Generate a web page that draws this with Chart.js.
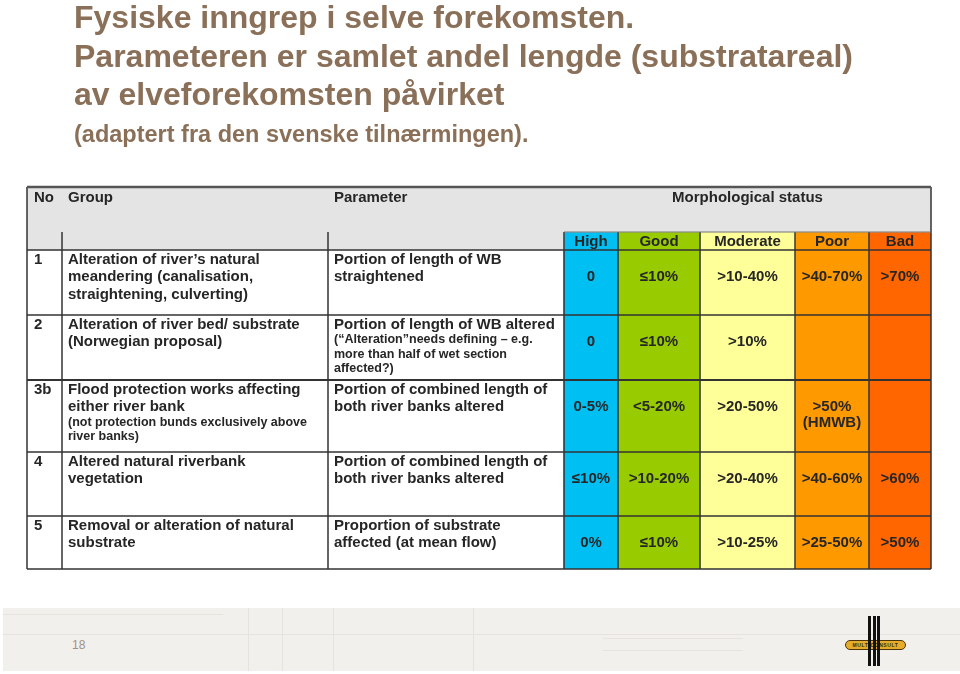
<!DOCTYPE html>
<html>
<head>
<meta charset="utf-8">
<script src="https://cdn.jsdelivr.net/npm/chart.js@4.4.0/dist/chart.umd.min.js"></script>
<style>
  body { margin: 0; width: 960px; height: 674px; overflow: hidden; position: relative; background: #fff;
         font-family: "Liberation Sans", Arial, sans-serif; }
  #c { position: absolute; left: 0; top: 0; }
  .title { position: absolute; left: 74px; color: #8b7059; font-weight: bold; white-space: nowrap; }
  .big { font-size: 32px; line-height: 38.5px; top: -2px; }
  .sub { font-size: 23.5px; line-height: 28px; top: 120px; }
  #footer { position: absolute; left: 3px; top: 608px; width: 957px; height: 63px; background: #f2f0ec; }
  .fl { position: absolute; background: #e6e2dc; }
  #page { position: absolute; left: 72px; top: 638px; font-size: 12px; color: #a09282; }
  .bar { position: absolute; top: 616px; width: 3px; height: 50px; background: #111; }
  #pill { position: absolute; left: 845px; top: 640px; width: 59px; height: 8px; border-radius: 5px;
          background: #e6ad2b; border: 1px solid #4a350e; font-size: 5px; line-height: 8px; font-weight: bold;
          color: #3a2a0c; text-align: center; letter-spacing: 0.6px; }
</style>
</head>
<body>
<canvas id="c" width="960" height="674"></canvas>
<div class="title big">Fysiske inngrep i selve forekomsten.<br>Parameteren er samlet andel lengde (substratareal)<br>av elveforekomsten påvirket</div>
<div class="title sub">(adaptert fra den svenske tilnærmingen).</div>
<div id="footer">
  <div class="fl" style="left:0;top:6px;width:220px;height:1px"></div>
  <div class="fl" style="left:0;top:26px;width:957px;height:1px"></div>
  <div class="fl" style="left:245px;top:0;width:1px;height:63px"></div>
  <div class="fl" style="left:279px;top:0;width:1px;height:63px"></div>
  <div class="fl" style="left:330px;top:0;width:1px;height:63px"></div>
  <div class="fl" style="left:470px;top:0;width:1px;height:63px"></div>
  <div class="fl" style="left:600px;top:30px;width:140px;height:1px"></div>
  <div class="fl" style="left:600px;top:42px;width:140px;height:1px"></div>
</div>
<div id="page">18</div>
<div id="pill">MULTICONSULT</div>
<div class="bar" style="left:868px"></div>
<div class="bar" style="left:872.5px"></div>
<div class="bar" style="left:877px"></div>
<script>
// categories / texts
var statusLabels = ['High', 'Good', 'Moderate', 'Poor', 'Bad'];
var statusColors = ['#00bff3', '#99cc00', '#ffff99', '#ff9900', '#ff6600'];
var rowNo = ['1', '2', '3b', '4', '5'];
var groupText = [
    ['Alteration of river\u2019s natural', 'meandering (canalisation,', 'straightening, culverting)'],
    ['Alteration of river bed/ substrate', '(Norwegian proposal)'],
    ['Flood protection works affecting', 'either river bank'],
    ['Altered natural riverbank', 'vegetation'],
    ['Removal or alteration of natural', 'substrate']
];
var groupNote = [[], [], ['(not protection bunds exclusively above', 'river banks)'], [], []];
var parameterText = [
    ['Portion of length of WB', 'straightened'],
    ['Portion of length of WB altered'],
    ['Portion of combined length of', 'both river banks altered'],
    ['Portion of combined length of', 'both river banks altered'],
    ['Proportion of substrate', 'affected (at mean flow)']
];
var parameterNote = [[], ['(\u201cAlteration\u201dneeds defining \u2013 e.g.', 'more than half of wet section', 'affected?)'], [], [], []];

// class limits per status
var highValues = ['0', '0', '0-5%', '\u226410%', '0%'];
var goodValues = ['\u226410%', '\u226410%', '<5-20%', '>10-20%', '\u226410%'];
var moderateValues = ['>10-40%', '>10%', '>20-50%', '>20-40%', '>10-25%'];
var poorValues = ['>40-70%', '', '>50%\n(HMWB)', '>40-60%', '>25-50%'];
var badValues = ['>70%', '', '', '>60%', '>50%'];
var statusValues = [highValues, goodValues, moderateValues, poorValues, badValues];

// table grid (scale units, 1 unit = 1px)
var colEdges = [0, 35, 301, 537, 591, 673, 768, 842, 904];
var rowEdges = [0, 45, 63, 128, 193, 265, 329, 382];

var FONT = '"Liberation Sans", Arial, sans-serif';

var datasets = [];
// gray header
datasets.push({ label: 'header', data: [{ x: 452, y: [0, 45] }], backgroundColor: '#e4e4e4',
    barThickness: 904, grouped: false, borderWidth: 0 });
datasets.push({ label: 'header2', data: [{ x: 268.5, y: [45, 63] }], backgroundColor: '#e4e4e4',
    barThickness: 537, grouped: false, borderWidth: 0 });

statusLabels.forEach(function (name, i) {
    var x0 = colEdges[3 + i], x1 = colEdges[4 + i];
    var data = [];
    for (var r = 1; r < rowEdges.length - 1; r++) {
        data.push({ x: (x0 + x1) / 2, y: [rowEdges[r], rowEdges[r + 1]] });
    }
    datasets.push({
        label: name,
        data: data,
        backgroundColor: statusColors[i],
        barThickness: x1 - x0,
        grouped: false,
        borderWidth: 0
    });
});

var tablePlugin = {
    id: 'tableText',
    afterDatasetsDraw: function (chart) {
        var ctx = chart.ctx;
        var sx = chart.scales.x, sy = chart.scales.y;
        function px(v) { return sx.getPixelForValue(v); }
        function py(v) { return sy.getPixelForValue(v); }
        function line(x0, y0, x1, y1) {
            ctx.beginPath();
            ctx.moveTo(px(x0), py(y0));
            ctx.lineTo(px(x1), py(y1));
            ctx.stroke();
        }
        ctx.save();

        // grid lines
        ctx.strokeStyle = '#333';
        ctx.lineWidth = 1.5;
        for (var r = 2; r < rowEdges.length; r++) line(0, rowEdges[r], 904, rowEdges[r]);
        for (var c = 1; c < colEdges.length - 1; c++) line(colEdges[c], 45, colEdges[c], 382);
        line(0, 0, 0, 382);
        line(904, 0, 904, 382);
        ctx.lineWidth = 2;
        line(0, 193, 904, 193);
        ctx.lineWidth = 1;
        ctx.strokeStyle = '#777';
        line(537, 45, 904, 45);
        ctx.lineWidth = 2.5;
        ctx.strokeStyle = '#555';
        line(0, 0, 904, 0);

        ctx.fillStyle = '#262626';
        ctx.textBaseline = 'middle';
        ctx.font = 'bold 15px ' + FONT;

        // header
        ctx.textAlign = 'left';
        ctx.fillText('No', px(7), py(11));
        ctx.fillText('Group', px(41), py(11));
        ctx.fillText('Parameter', px(307), py(11));
        ctx.textAlign = 'center';
        ctx.fillText('Morphological status', px((537 + 904) / 2), py(11));
        statusLabels.forEach(function (name, i) {
            ctx.fillText(name, px((colEdges[3 + i] + colEdges[4 + i]) / 2), py(54.5));
        });

        // rows
        function block(x, top, main, note) {
            var yy = top + 9.5;
            ctx.font = 'bold 15px ' + FONT;
            main.forEach(function (t, k) {
                ctx.fillText(t, px(x), py(yy));
                if (k < main.length - 1) yy += 17.5;
            });
            yy += 15.5;
            ctx.font = 'bold 12.5px ' + FONT;
            note.forEach(function (t) {
                ctx.fillText(t, px(x), py(yy));
                yy += 14.5;
            });
        }
        ctx.textAlign = 'left';
        rowNo.forEach(function (no, r) {
            var top = rowEdges[r + 2];
            block(7, top, [no], []);
            block(41, top, groupText[r], groupNote[r]);
            block(307, top, parameterText[r], parameterNote[r]);
        });

        ctx.textAlign = 'center';
        ctx.font = 'bold 15px ' + FONT;
        statusValues.forEach(function (vals, i) {
            var cx = px((colEdges[3 + i] + colEdges[4 + i]) / 2);
            vals.forEach(function (v, r) {
                var top = rowEdges[r + 2];
                v.split('\n').forEach(function (t, k) {
                    ctx.fillText(t, cx, py(top + 26.5 + k * 16));
                });
            });
        });
        ctx.restore();
    }
};

new Chart(document.getElementById('c'), {
    type: 'bar',
    data: { datasets: datasets },
    options: {
        responsive: false,
        animation: false,
        layout: { padding: { left: 27, right: 29, top: 187, bottom: 105 } },
        plugins: { legend: { display: false }, tooltip: { enabled: false } },
        scales: {
            x: { type: 'linear', min: 0, max: 904, display: false, offset: false },
            y: { type: 'linear', min: 0, max: 382, reverse: true, display: false }
        }
    },
    plugins: [tablePlugin]
});
</script>
</body>
</html>
